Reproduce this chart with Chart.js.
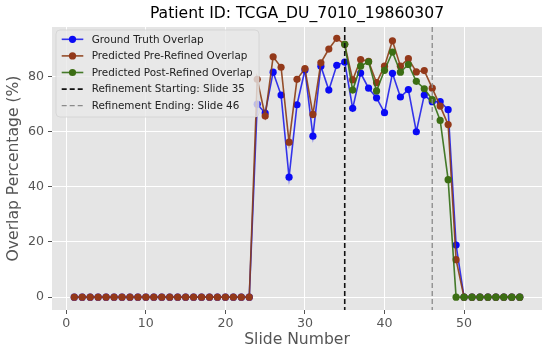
<!DOCTYPE html>
<html>
<head>
<meta charset="utf-8">
<script src="https://cdn.jsdelivr.net/npm/chart.js@4.4.1/dist/chart.umd.min.js"></script>
<style>
  html, body { margin: 0; padding: 0; background: #fff; }
  canvas { display: block; }
</style>
</head>
<body>
<canvas id="theChart" width="550" height="351"></canvas>
<script>
const chartTitle = "Patient ID: TCGA_DU_7010_19860307";

const slides = [1, 2, 3, 4, 5, 6, 7, 8, 9, 10, 11, 12, 13, 14, 15, 16, 17, 18, 19, 20,
  21, 22, 23, 24, 25, 26, 27, 28, 29, 30, 31, 32, 33, 34, 35, 36, 37, 38, 39, 40,
  41, 42, 43, 44, 45, 46, 47, 48, 49, 50, 51, 52, 53, 54, 55, 56, 57];

const groundTruth = [0, 0, 0, 0, 0, 0, 0, 0, 0, 0, 0, 0, 0, 0, 0, 0, 0, 0, 0, 0,
  0, 0, 0, 70.0, 66.8, 81.6, 73.3, 43.5, 69.8, 82.4, 58.4, 83.8, 75.1, 84.1, 85.3, 68.5, 81.3, 75.8, 72.3, 66.9,
  81.2, 72.6, 75.3, 60.0, 73.3, 70.9, 70.9, 68.0, 18.9, 0, 0, 0, 0, 0, 0, 0, 0];

const preRefined = [0, 0, 0, 0, 0, 0, 0, 0, 0, 0, 0, 0, 0, 0, 0, 0, 0, 0, 0, 0,
  0, 0, 0, 79.0, 65.7, 87.2, 83.4, 56.2, 79.0, 82.9, 66.3, 85.0, 90.0, 93.9, 91.7, 78.8, 86.2, 85.5, 77.8, 83.8,
  93.0, 83.8, 86.5, 81.7, 82.2, 75.8, 69.3, 62.6, 13.6, 0, 0, 0, 0, 0, 0, 0, 0];

// post-refined values only exist from the refinement start onwards
const postRefined = [null, null, null, null, null, null, null, null, null, null, null, null, null, null, null, null, null, null, null, null,
  null, null, null, null, null, null, null, null, null, null, null, null, null, null, 91.7, 75.1, 83.8, 85.4, 74.8, 82.3,
  88.9, 81.6, 84.4, 78.3, 75.6, 71.7, 64.1, 42.6, 0, 0, 0, 0, 0, 0, 0, 0, 0];

const refineStart = 35;
const refineEnd = 46;

const xTicks = [0, 10, 20, 30, 40, 50];
const yTicks = [0, 20, 40, 60, 80];

const seriesLabels = ["Ground Truth Overlap", "Predicted Pre-Refined Overlap", "Predicted Post-Refined Overlap"];
const lineLabels = [`Refinement Starting: Slide ${refineStart}`, `Refinement Ending: Slide ${refineEnd}`];

const seriesColors = [
  { line: "rgba(20,20,235,0.85)", marker: "#0a0af5" },
  { line: "rgba(139,60,20,0.9)", marker: "#93391a" },
  { line: "rgba(50,110,20,0.9)", marker: "#3c6e14" },
];
const vlineStyles = [
  { color: "#111111", width: 1.6, dash: [5, 3] },
  { color: "#8a8a8a", width: 1.3, dash: [5, 3] },
];

const FONT = '"DejaVu Sans", sans-serif';

function toPoints(values) {
  return slides.map((s, i) => ({ x: s, y: values[i] }));
}

const seriesValues = [groundTruth, preRefined, postRefined];

const datasets = seriesValues.map((vals, i) => ({
  label: seriesLabels[i],
  data: toPoints(vals),
  borderColor: seriesColors[i].line,
  backgroundColor: seriesColors[i].marker,
  pointBackgroundColor: seriesColors[i].marker,
  pointBorderColor: seriesColors[i].marker,
  pointBorderWidth: 0,
  pointRadius: 3.6,
  borderWidth: 1.6,
  tension: 0,
  spanGaps: false,
  order: 3 - i,
}));

const plotBackground = {
  id: "plotBackground",
  beforeDraw(chart) {
    const { ctx, chartArea: a } = chart;
    ctx.save();
    ctx.fillStyle = "#E5E5E5";
    ctx.fillRect(a.left, a.top, a.right - a.left, a.bottom - a.top);
    ctx.restore();
  },
};

const overlays = {
  id: "overlays",
  afterDatasetsDraw(chart) {
    const { ctx, chartArea: a, scales } = chart;
    ctx.save();

    // refinement lines
    [refineStart, refineEnd].forEach((v, i) => {
      const x = scales.x.getPixelForValue(v);
      ctx.strokeStyle = vlineStyles[i].color;
      ctx.lineWidth = vlineStyles[i].width;
      ctx.setLineDash(vlineStyles[i].dash);
      ctx.beginPath();
      ctx.moveTo(x, a.top);
      ctx.lineTo(x, a.bottom);
      ctx.stroke();
    });
    ctx.setLineDash([]);

    // legend box
    const bx = 56, by = 30, bw = 203, bh = 87, r = 4;
    ctx.fillStyle = "rgba(232,232,232,0.8)";
    ctx.strokeStyle = "rgba(210,210,210,0.8)";
    ctx.lineWidth = 1;
    ctx.beginPath();
    ctx.roundRect(bx, by, bw, bh, r);
    ctx.fill();
    ctx.stroke();

    const rowY = (k) => 39.3 + k * 16.6;
    const hx0 = 61.7, hx1 = 83.3, tx = 91.7;
    ctx.font = `10.4px ${FONT}`;
    ctx.textBaseline = "middle";
    ctx.textAlign = "left";

    seriesLabels.forEach((lab, k) => {
      const y = rowY(k);
      ctx.strokeStyle = seriesColors[k].line;
      ctx.lineWidth = 1.6;
      ctx.beginPath();
      ctx.moveTo(hx0, y);
      ctx.lineTo(hx1, y);
      ctx.stroke();
      ctx.fillStyle = seriesColors[k].marker;
      ctx.beginPath();
      ctx.arc((hx0 + hx1) / 2, y, 3.6, 0, Math.PI * 2);
      ctx.fill();
      ctx.fillStyle = "#222";
      ctx.fillText(lab, tx, y + 0.5);
    });

    lineLabels.forEach((lab, j) => {
      const y = rowY(seriesLabels.length + j);
      ctx.strokeStyle = vlineStyles[j].color;
      ctx.lineWidth = vlineStyles[j].width;
      ctx.setLineDash(vlineStyles[j].dash);
      ctx.beginPath();
      ctx.moveTo(hx0, y);
      ctx.lineTo(hx1, y);
      ctx.stroke();
      ctx.setLineDash([]);
      ctx.fillStyle = "#222";
      ctx.fillText(lab, tx, y + 0.5);
    });

    ctx.restore();
  },
  afterDraw(chart) {
    const { ctx, chartArea: a } = chart;
    ctx.save();
    ctx.font = `15.6px ${FONT}`;
    ctx.fillStyle = "#000";
    ctx.textAlign = "center";
    ctx.textBaseline = "middle";
    ctx.fillText(chartTitle, (a.left + a.right) / 2, 14);
    ctx.restore();
  },
};

new Chart(document.getElementById("theChart"), {
  type: "line",
  data: { datasets },
  plugins: [plotBackground, overlays],
  options: {
    responsive: false,
    animation: false,
    devicePixelRatio: 1,
    events: [],
    layout: { padding: { top: 27, right: 8, bottom: 0, left: 0 } },
    plugins: {
      legend: { display: false },
      tooltip: { enabled: false },
      title: { display: false },
    },
    scales: {
      x: {
        type: "linear",
        min: -1.8,
        max: 59.8,
        afterBuildTicks(scale) {
          scale.ticks = xTicks.map((v) => ({ value: v }));
        },
        afterFit(scale) {
          scale.height = 41;
        },
        border: { display: false },
        grid: { color: "#ffffff", lineWidth: 1, tickColor: "#555555", tickLength: 4 },
        ticks: { color: "#555555", font: { family: FONT, size: 12.6 }, padding: 2, maxRotation: 0 },
        title: {
          display: true,
          text: "Slide Number",
          color: "#555555",
          font: { family: FONT, size: 15.6 },
          padding: { top: 0, bottom: 2 },
        },
      },
      y: {
        type: "linear",
        min: -4.67,
        max: 98,
        afterBuildTicks(scale) {
          scale.ticks = yTicks.map((v) => ({ value: v }));
        },
        afterFit(scale) {
          scale.width = 52;
        },
        border: { display: false },
        grid: { color: "#ffffff", lineWidth: 1, tickColor: "#555555", tickLength: 4 },
        ticks: { color: "#555555", font: { family: FONT, size: 12.6 }, padding: 4 },
        title: {
          display: true,
          text: "Overlap Percentage (%)",
          color: "#555555",
          font: { family: FONT, size: 15.6 },
          padding: { top: 5, bottom: 0 },
        },
      },
    },
  },
});
</script>
</body>
</html>
